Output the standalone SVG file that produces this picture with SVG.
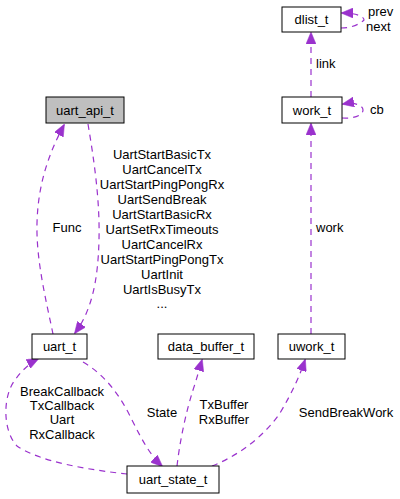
<svg xmlns="http://www.w3.org/2000/svg" width="400" height="499" viewBox="0 0 400 499">
<defs>
<marker id="ah" markerWidth="12" markerHeight="10" refX="11" refY="5" orient="auto" markerUnits="userSpaceOnUse">
<path d="M0,0 L12,5 L0,10 Z" fill="#9a32cd" stroke="#9a32cd" stroke-width="0.5"/>
</marker>
</defs>
<style>
text{font-family:"Liberation Sans",Arial,sans-serif;font-size:13px;fill:#000}
.n rect{fill:#fff;stroke:#000;stroke-width:1}
.n text{text-anchor:middle}
.e path{fill:none;stroke:#9a32cd;stroke-width:1.2;stroke-dasharray:6,5;marker-end:url(#ah)}
.e text{text-anchor:middle}
.l{text-anchor:start !important}
</style>
<rect width="400" height="499" fill="#fff"/>
<g class="e" id="edges">
<path d="M53,334 C46,300 36,260 37,223 C38,185 48,155 64,125"/>
<text x="67" y="232">Func</text>
<path d="M88,124 C94,160 100,200 99,240 C98,280 92,310 75,333"/>
<text x="162" y="159">UartStartBasicTx</text>
<text x="162" y="174">UartCancelTx</text>
<text x="162" y="189">UartStartPingPongRx</text>
<text x="162" y="204">UartSendBreak</text>
<text x="162" y="219">UartStartBasicRx</text>
<text x="162" y="234">UartSetRxTimeouts</text>
<text x="162" y="249">UartCancelRx</text>
<text x="162" y="264">UartStartPingPongTx</text>
<text x="162" y="279">UartInit</text>
<text x="162" y="294">UartIsBusyTx</text>
<text x="162" y="308">...</text>
<path d="M341,28 C352,28 360,24 364,20 C364,16 355,13 342,13"/>
<text class="l" x="368" y="16">prev</text>
<text class="l" x="366" y="31">next</text>
<path d="M311,97 L311,33"/>
<text class="l" x="316" y="68">link</text>
<path d="M342,118 C354,119 363,115 363,110 C363,105 354,102 343,104"/>
<text class="l" x="370" y="114">cb</text>
<path d="M311,334 L311,124"/>
<text class="l" x="316" y="232">work</text>
<path d="M83,362 C105,375 120,395 132,420 C142,440 150,455 162,466"/>
<text x="162" y="417">State</text>
<path d="M127,474 C90,470 40,462 17,446 C2,430 3,395 15,380 C22,370 30,363 38,359"/>
<text x="62" y="396">BreakCallback</text>
<text x="62" y="410">TxCallback</text>
<text x="62" y="424">Uart</text>
<text x="62" y="439">RxCallback</text>
<path d="M177,466 C180,440 186,412 193,390 C197,378 199,370 202,360"/>
<text x="224" y="409">TxBuffer</text>
<text x="224" y="424">RxBuffer</text>
<path d="M212,466 C240,455 265,435 280,413 C292,393 300,375 305,360"/>
<text x="346" y="417">SendBreakWork</text>
</g>
<g class="n" id="uart_api_t"><rect x="46" y="97" width="78" height="26" style="fill:#bfbfbf"/><text x="85" y="115">uart_api_t</text></g>
<g class="n" id="dlist_t"><rect x="282" y="7" width="59" height="25"/><text x="311.5" y="24">dlist_t</text></g>
<g class="n" id="work_t"><rect x="282" y="97" width="60" height="26"/><text x="312" y="115">work_t</text></g>
<g class="n" id="uart_t"><rect x="32" y="334" width="55" height="25"/><text x="59.5" y="351">uart_t</text></g>
<g class="n" id="data_buffer_t"><rect x="158" y="334" width="96" height="25"/><text x="206" y="351">data_buffer_t</text></g>
<g class="n" id="uwork_t"><rect x="278" y="334" width="67" height="25"/><text x="311.5" y="351">uwork_t</text></g>
<g class="n" id="uart_state_t"><rect x="127" y="466" width="92" height="27"/><text x="173" y="484">uart_state_t</text></g>
</svg>
